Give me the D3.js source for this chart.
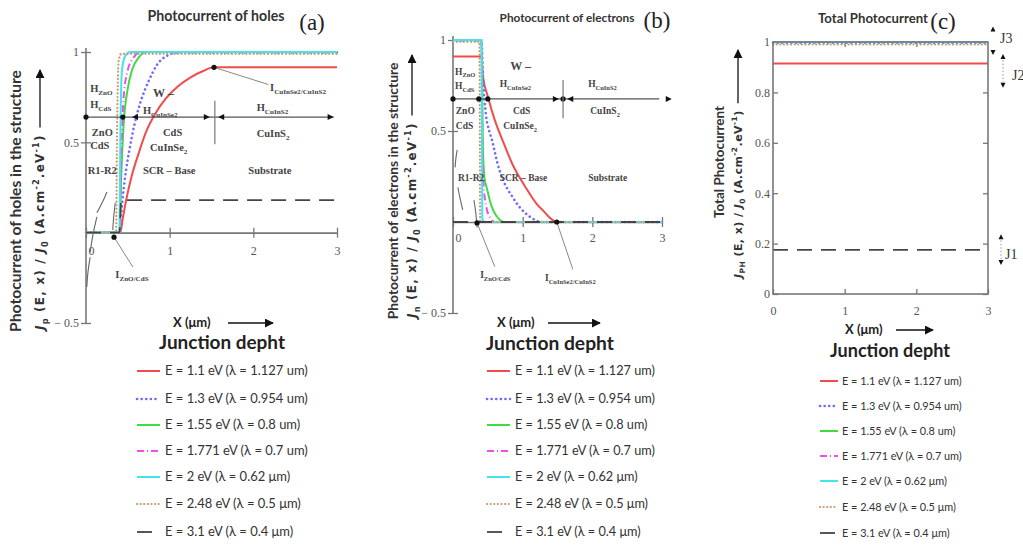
<!DOCTYPE html>
<html>
<head>
<meta charset="utf-8">
<script src="https://cdn.jsdelivr.net/npm/d3@7"></script>
<style>
  body { margin: 0; background: #fff; }
  svg { display: block; }
</style>
</head>
<body>
<div id="chart"></div>
<script>
const width = 1023;
const height = 545;
const sans = "Lato, 'Open Sans', sans-serif";
const serif = "'Liberation Serif', 'DejaVu Serif', serif";

// Legend labels (same for the three panels)
const legendLabels = [
  "E = 1.1 eV (λ = 1.127 um)",
  "E = 1.3 eV (λ = 0.954 um)",
  "E = 1.55 eV (λ = 0.8 um)",
  "E = 1.771 eV (λ = 0.7 um)",
  "E = 2 eV (λ = 0.62 μm)",
  "E = 2.48 eV (λ = 0.5 μm)",
  "E = 3.1 eV (λ = 0.4 μm)"
];

// (a) photocurrent of holes, [x (µm), Jp/J0]
const holes11 = [[0,0],[0.41,0],[0.44,0.08],[0.48,0.18],[0.55,0.32],[0.63,0.44],[0.72,0.56],[0.83,0.66],[0.95,0.74],[1.1,0.81],[1.25,0.86],[1.4,0.895],[1.53,0.915],[3,0.915]];
const holes13 = [[0,0],[0.4,0],[0.42,0.1],[0.44,0.2],[0.48,0.35],[0.52,0.46],[0.58,0.6],[0.65,0.72],[0.75,0.84],[0.85,0.93],[0.97,0.98],[1.1,0.997],[3,0.997]];
const holes155 = [[0,0],[0.4,0],[0.42,0.3],[0.45,0.6],[0.5,0.8],[0.55,0.9],[0.63,0.97],[0.73,1],[3,1]];
const holes1771 = [[0,0],[0.4,0],[0.42,0.4],[0.45,0.75],[0.5,0.9],[0.57,0.97],[0.65,1],[3,1]];
const holes2 = [[0,0],[0.4,0],[0.41,0.5],[0.43,0.9],[0.47,0.98],[0.53,1],[3,1]];
const holes248 = [[0,0],[0.36,0],[0.37,0.5],[0.39,0.95],[0.42,0.99],[3,0.99]];
const holes31 = [[0,0],[0.4,0],[0.42,0.18],[3,0.18]];

// (b) photocurrent of electrons, [x (µm), Jn/J0]
const elec11 = [[0,0.91],[0.41,0.91],[0.43,0.8],[0.5,0.69],[0.6,0.56],[0.71,0.45],[0.85,0.32],[1.06,0.18],[1.2,0.1],[1.3,0.06],[1.4,0.02],[1.49,0],[3,0]];
const elec13 = [[0,0.997],[0.41,0.997],[0.43,0.8],[0.47,0.6],[0.52,0.5],[0.56,0.45],[0.64,0.32],[0.72,0.23],[0.85,0.14],[0.96,0.08],[1.1,0.03],[1.27,0],[3,0]];
const elec155 = [[0,1],[0.41,1],[0.42,0.7],[0.43,0.4],[0.45,0.25],[0.49,0.18],[0.55,0.09],[0.63,0.03],[0.74,0],[3,0]];
const elec1771 = [[0,1],[0.41,1],[0.42,0.5],[0.44,0.2],[0.48,0.08],[0.54,0.02],[0.6,0],[3,0]];
const elec2 = [[0,1],[0.41,1],[0.42,0.02],[0.45,0],[3,0]];
const elec248 = [[0,0.99],[0.38,0.99],[0.39,0],[3,0]];
const elec31 = [[0,0],[3,0]];

// (c) total photocurrent, constant along x
const totalValues = [0.915, 0.997, 1, 1, 1, 0.99, 0.175];

// ticks
const xTicks = [0, 1, 2, 3];
const openYTicks = [1, 0.5, -0.5];
const totalYTicks = [0, 0.2, 0.4, 0.6, 0.8, 1];

// line styles, one per energy
const styles = [
  { color: "#f24b4b", dash: null, w: 2 },
  { color: "#6f6cf5", dash: "0.1,4.5", w: 2.6, cap: "round" },
  { color: "#41dc41", dash: null, w: 2 },
  { color: "#ec4fec", dash: "7,3,1,3", w: 2 },
  { color: "#44e4ec", dash: null, w: 2 },
  { color: "#c99a6c", dash: "0.1,3.5", w: 2.2, cap: "round" },
  { color: "#454545", dash: "15,9", w: 1.8 }
];

const svg = d3.select("#chart").append("svg")
  .attr("width", width)
  .attr("height", height)
  .style("font-family", sans);

svg.append("defs").append("marker")
  .attr("id", "arrow")
  .attr("viewBox", "0 0 10 10")
  .attr("refX", 9).attr("refY", 5)
  .attr("markerWidth", 9).attr("markerHeight", 9)
  .attr("markerUnits", "userSpaceOnUse")
  .attr("orient", "auto")
  .append("path").attr("d", "M0,0L10,5L0,10Z").attr("fill", "#111");

// text with sub/superscripts, parts = [[text, kind]]
function rich(text, parts) {
  let off = 0;
  parts.forEach(([t, kind]) => {
    const small = kind === "sub" || kind === "sup";
    const f = small ? 0.68 : 1;
    const target = kind === "sub" ? 0.3 : kind === "sup" ? -0.42 : 0;
    const ts = text.append("tspan").attr("font-size", f + "em").text(t);
    if (target !== off) ts.attr("dy", ((target - off) / f).toFixed(3) + "em");
    if (kind === "i") ts.attr("font-style", "italic");
    off = target;
  });
  return text;
}

// scale a plain text's font so that it spans len px
function fit(text, len) {
  const cur = text.node().getComputedTextLength();
  const fs = parseFloat(text.attr("font-size"));
  text.attr("font-size", fs * len / cur);
  return fs * len / cur;
}

const line = (x, y) => d3.line().x(d => x(d[0])).y(d => y(d[1])).curve(d3.curveMonotoneX);

function drawSeries(g, data, x, y) {
  data.forEach((s, i) => {
    const st = styles[i];
    g.append("path").datum(s)
      .attr("d", line(x, y))
      .attr("fill", "none")
      .attr("stroke", st.color)
      .attr("stroke-width", st.w)
      .attr("stroke-linecap", st.cap || "butt")
      .attr("stroke-dasharray", st.dash);
  });
}

function drawLegend(lg) {
  let fs = lg.fontSize;
  legendLabels.forEach((lab, i) => {
    const st = styles[i];
    const yy = lg.rows[i];
    svg.append("line")
      .attr("x1", lg.sample[0]).attr("x2", lg.sample[1])
      .attr("y1", yy).attr("y2", yy)
      .attr("stroke", st.color).attr("stroke-width", st.w)
      .attr("stroke-linecap", st.cap || "butt")
      .attr("stroke-dasharray", st.dash);
    const t = svg.append("text")
      .attr("x", lg.textX).attr("y", yy + 4)
      .attr("font-size", fs).attr("fill", "#333")
      .text(lab);
    if (i === 0) fs = fit(t, lg.firstLen);
  });
}

// rotated axis title: bold line + formula line with arrow
function yTitle(t) {
  const l1 = svg.append("text")
    .attr("transform", `translate(${t.x1},${t.c1}) rotate(-90)`)
    .attr("text-anchor", "middle")
    .attr("font-size", 12).attr("font-weight", "bold").attr("fill", "#333")
    .text(t.line1);
  fit(l1, t.len1);
  const g = svg.append("g").attr("transform", `translate(${t.x2},${t.bottom}) rotate(-90)`);
  const l2 = g.append("text")
    .attr("font-family", "'DejaVu Sans', sans-serif")
    .attr("font-size", t.fs2).attr("font-weight", "bold").attr("fill", "#333");
  rich(l2, [["J", "i"], [t.sub, "sub"], [" (E, x) / ", ""], ["J", "i"], ["0", "sub"],
    ["  (A.cm", ""], ["-2", "sup"], [".eV", ""], ["-1", "sup"], [")", ""]]);
  // small spacing correction towards the span of the original
  const raw = l2.node().getBBox().width;
  const n = l2.text().length;
  const ls = Math.max(-0.6, Math.min(1.2, (t.len2 - raw) / n));
  l2.attr("letter-spacing", ls.toFixed(2));
  const len2 = l2.node().getBBox().width;
  g.append("line")
    .attr("x1", len2 + 5).attr("x2", t.bottom - t.tip)
    .attr("y1", -4).attr("y2", -4)
    .attr("stroke", "#111").attr("stroke-width", 1.3)
    .attr("marker-end", "url(#arrow)");
}

function xTitle(t) {
  svg.append("text")
    .attr("x", t.x).attr("y", t.y)
    .attr("font-size", 13).attr("font-weight", "bold").attr("fill", "#222")
    .text("X (μm)");
  svg.append("line")
    .attr("x1", t.a0).attr("x2", t.a1)
    .attr("y1", t.y - 4).attr("y2", t.y - 4)
    .attr("stroke", "#111").attr("stroke-width", 1.3)
    .attr("marker-end", "url(#arrow)");
  const j = svg.append("text")
    .attr("x", t.jx).attr("y", t.jy)
    .attr("text-anchor", "middle")
    .attr("font-size", 16).attr("font-weight", "bold").attr("fill", "#222")
    .text("Junction depht");
  fit(j, t.jlen);
}

function titles(t) {
  const s = svg.append("text")
    .attr("x", t.x).attr("y", t.y)
    .attr("text-anchor", "middle")
    .attr("font-size", 10).attr("font-weight", "bold").attr("fill", "#333")
    .text(t.text);
  fit(s, t.len);
  svg.append("text")
    .attr("x", t.lx).attr("y", t.ly)
    .attr("text-anchor", "middle")
    .attr("font-family", serif).attr("font-size", 23).attr("fill", "#222")
    .text(t.letter);
}

// panels (a) and (b): open axes crossing at the origin
function openPanel(p) {
  const x = d3.scaleLinear().domain([0, 3]).range(p.xRange);
  const y = d3.scaleLinear().domain([-0.5, 1]).range(p.yRange);
  const g = svg.append("g");

  g.append("line")
    .attr("x1", x(0)).attr("x2", x(0))
    .attr("y1", y(-0.5)).attr("y2", y(1) - 4)
    .attr("stroke", "#777").attr("stroke-width", 1.6);

  const ya = g.append("g")
    .attr("transform", `translate(${x(0)},0)`)
    .call(d3.axisLeft(y).tickValues(openYTicks).tickSize(5).tickPadding(2)
      .tickFormat(d => d < 0 ? "− 0.5" : d));
  ya.select(".domain").remove();
  ya.selectAll(".tick line").attr("x1", 5).attr("stroke", "#777").attr("stroke-width", 1.3);
  ya.selectAll(".tick text").attr("font-family", serif).attr("font-size", 12).attr("fill", "#555");

  const xa = g.append("g")
    .attr("transform", `translate(0,${y(0)})`)
    .call(d3.axisBottom(x).tickValues(xTicks).tickSize(5).tickSizeOuter(0).tickPadding(p.xPad)
      .tickFormat(d => d));
  xa.select(".domain").attr("stroke", "#777").attr("stroke-width", 1.6);
  xa.selectAll(".tick line").attr("y1", -5).attr("stroke", "#777").attr("stroke-width", 1.3);
  xa.selectAll(".tick text").attr("font-family", serif).attr("font-size", 12).attr("fill", "#555")
    .attr("dx", d => d === 0 ? 5 : 0);

  // leader scribbles near the front contact
  p.scribbles.forEach(s => {
    g.append("path").datum(s)
      .attr("d", d3.line().x(d => x(d[0])).y(d => y(d[1])).curve(d3.curveBasis))
      .attr("fill", "none").attr("stroke", "#666").attr("stroke-width", 1.1);
  });

  drawSeries(g, p.series, x, y);

  // layer arrow line
  const ly = y(p.layerY);
  g.append("line")
    .attr("x1", x(0)).attr("x2", x(2.96)).attr("y1", ly).attr("y2", ly)
    .attr("stroke", "#555").attr("stroke-width", 1.2);
  p.layerDots.forEach(d => g.append("circle").attr("cx", x(d)).attr("cy", ly).attr("r", 2.6).attr("fill", "#111"));
  p.layerHeads.forEach(([d, dir]) => {
    const cx = x(d);
    g.append("path")
      .attr("d", `M${cx},${ly}L${cx - 6 * dir},${ly - 3}L${cx - 6 * dir},${ly + 3}Z`)
      .attr("fill", "#111");
  });
  g.append("line")
    .attr("x1", x(p.sep[0])).attr("x2", x(p.sep[0]))
    .attr("y1", y(p.sep[1])).attr("y2", y(p.sep[2]))
    .attr("stroke", "#777").attr("stroke-width", 1.2);

  // interface markers with leaders
  p.interfaces.forEach(f => {
    g.append("line")
      .attr("x1", x(f.at[0])).attr("y1", y(f.at[1]))
      .attr("x2", x(f.to[0])).attr("y2", y(f.to[1]))
      .attr("stroke", "#888").attr("stroke-width", 1);
    g.append("circle").attr("cx", x(f.at[0])).attr("cy", y(f.at[1])).attr("r", 2.6).attr("fill", "#111");
    rich(g.append("text")
      .attr("x", x(f.label[0])).attr("y", y(f.label[1]))
      .attr("font-family", serif).attr("font-size", p.annSize).attr("font-weight", "bold").attr("fill", "#444"),
      [["I", ""], [f.sub, "sub"]]);
  });

  // region annotations
  p.notes.forEach(n => {
    rich(g.append("text")
      .attr("x", x(n.at[0])).attr("y", y(n.at[1]))
      .attr("font-family", serif).attr("font-size", n.size || p.annSize)
      .attr("font-weight", "bold").attr("fill", "#444"),
      n.parts);
  });
}

const layerNotes = (pos) => [
  { at: pos[0], parts: [["H", ""], ["ZnO", "sub"]] },
  { at: pos[1], parts: [["H", ""], ["CdS", "sub"]] },
  { at: pos[2], parts: [["W –", ""]], size: 12 },
  { at: pos[3], parts: [["H", ""], ["CuInSe2", "sub"]] },
  { at: pos[4], parts: [["H", ""], ["CuInS2", "sub"]] },
  { at: pos[5], parts: [["ZnO", ""]] },
  { at: pos[6], parts: [["CdS", ""]] },
  { at: pos[7], parts: [["CdS", ""]] },
  { at: pos[8], parts: [["CuInSe", ""], ["2", "sub"]] },
  { at: pos[9], parts: [["CuInS", ""], ["2", "sub"]] },
  { at: pos[10], parts: [["R1-R2", ""]] },
  { at: pos[11], parts: [["SCR – Base", ""]] },
  { at: pos[12], parts: [["Substrate", ""]] }
];

// ---------- panel (a)
openPanel({
  xRange: [86, 337], yRange: [323, 52], xPad: 9, annSize: 10.5,
  series: [holes11, holes13, holes155, holes1771, holes2, holes248, holes31],
  layerY: 0.64,
  layerDots: [0, 0.44],
  layerHeads: [[0.55, -1], [1.48, 1], [1.58, -1], [2.96, 1]],
  sep: [1.54, 0.73, 0.49],
  scribbles: [
    [[0.25, 0.225], [0.2, 0.17], [0.13, 0.11]],
    [[0.35, 0.165], [0.33, 0.09], [0.32, 0.015]],
    [[0.13, 0.087], [0.08, -0.01], [0.05, -0.11]],
    [[0.05, -0.135], [0.02, -0.22], [0.01, -0.3]]
  ],
  interfaces: [
    { at: [0.335, -0.025], to: [0.56, -0.19], label: [0.35, -0.25], sub: "ZnO/CdS" },
    { at: [1.53, 0.915], to: [2.18, 0.82], label: [2.2, 0.784], sub: "CuInSe2/CuInS2" }
  ],
  notes: layerNotes([
    [0.05, 0.78], [0.05, 0.69], [0.8, 0.75], [0.68, 0.655], [2.04, 0.673],
    [0.07, 0.535], [0.05, 0.463], [0.92, 0.535], [0.765, 0.452], [2.04, 0.53],
    [0.02, 0.325], [0.68, 0.325], [1.94, 0.325]
  ])
});

// ---------- panel (b)
openPanel({
  xRange: [453, 662], yRange: [313, 40], xPad: 6, annSize: 9.5,
  series: [elec11, elec13, elec155, elec1771, elec2, elec248, elec31],
  layerY: 0.676,
  layerDots: [0, 0.37, 0.5, 1.58],
  layerHeads: [[1.52, 1], [1.64, -1], [3.14, 1]],
  sep: [1.58, 0.78, 0.57],
  scribbles: [
    [[0.06, 0.396], [0.04, 0.35], [0.03, 0.3]],
    [[0.07, 0.19], [0.1, 0.13], [0.14, 0.066]],
    [[0.3, 0.12], [0.33, 0.05], [0.345, -0.03]]
  ],
  interfaces: [
    { at: [0.345, -0.005], to: [0.6, -0.245], label: [0.39, -0.31], sub: "ZnO/CdS" },
    { at: [1.49, 0], to: [1.72, -0.26], label: [1.32, -0.325], sub: "CuInSe2/CuInS2" }
  ],
  notes: layerNotes([
    [0.03, 0.81], [0.03, 0.73], [0.82, 0.835], [0.67, 0.74], [1.94, 0.74],
    [0.04, 0.593], [0.04, 0.51], [0.86, 0.593], [0.72, 0.51], [1.97, 0.593],
    [0.07, 0.225], [0.67, 0.225], [1.94, 0.225]
  ])
});

// ---------- panel (c): boxed plot
{
  const x = d3.scaleLinear().domain([0, 3]).range([773, 988]);
  const y = d3.scaleLinear().domain([0, 1]).range([294, 42]);
  const g = svg.append("g");
  const axStyle = a => {
    a.select(".domain").remove();
    a.selectAll(".tick line").attr("stroke", "#777").attr("stroke-width", 1.3);
    a.selectAll(".tick text").attr("font-family", serif).attr("font-size", 12).attr("fill", "#555");
  };
  g.append("g").attr("transform", `translate(${x(0)},0)`)
    .call(d3.axisLeft(y).tickValues(totalYTicks).tickSize(-5).tickPadding(3).tickFormat(d => d)).call(axStyle);
  g.append("g").attr("transform", `translate(${x(3)},0)`)
    .call(d3.axisRight(y).tickValues(totalYTicks).tickSize(-5).tickFormat("")).call(axStyle);
  g.append("g").attr("transform", `translate(0,${y(0)})`)
    .call(d3.axisBottom(x).tickValues(xTicks).tickSize(-5).tickPadding(12).tickFormat(d => d)).call(axStyle);
  g.append("g").attr("transform", `translate(0,${y(1)})`)
    .call(d3.axisTop(x).tickValues([1, 2]).tickSize(-5).tickFormat("")).call(axStyle);

  drawSeries(g, totalValues.map(v => [[0, v], [3, v]]), x, y);

  g.append("rect")
    .attr("x", x(0)).attr("y", y(1))
    .attr("width", x(3) - x(0)).attr("height", y(0) - y(1))
    .attr("fill", "none").attr("stroke", "#777").attr("stroke-width", 1.6);

  // J1..J3 brackets
  const jMarks = [
    { name: "J3", top: 1.05, bot: 0.96, xa: 993, tx: 1000, ty: 1.015, line: false },
    { name: "J2", top: 0.94, bot: 0.83, xa: 1003, tx: 1012, ty: 0.87, line: true },
    { name: "J1", top: 0.225, bot: 0.127, xa: 1001, tx: 1005, ty: 0.16, line: true }
  ];
  jMarks.forEach(j => {
    const y0 = y(j.top), y1 = y(j.bot);
    if (j.line) {
      g.append("line").attr("x1", j.xa).attr("x2", j.xa).attr("y1", y0 + 3).attr("y2", y1 - 3)
        .attr("stroke", "#999").attr("stroke-width", 1).attr("stroke-dasharray", "1.5,2");
    }
    g.append("path").attr("d", `M${j.xa},${y0 - 3}L${j.xa - 2.5},${y0 + 2}L${j.xa + 2.5},${y0 + 2}Z`).attr("fill", "#111");
    g.append("path").attr("d", `M${j.xa},${y1 + 3}L${j.xa - 2.5},${y1 - 2}L${j.xa + 2.5},${y1 - 2}Z`).attr("fill", "#111");
    g.append("text").attr("x", j.tx).attr("y", y(j.ty) + 5)
      .attr("font-family", serif).attr("font-size", 14).attr("fill", "#333")
      .text(j.name);
  });
}

// ---------- titles, axis titles, legends
titles({ text: "Photocurrent of holes", x: 216, y: 21, len: 137, letter: "(a)", lx: 312, ly: 30 });
titles({ text: "Photocurrent of electrons", x: 567, y: 22, len: 135, letter: "(b)", lx: 657, ly: 28 });
titles({ text: "Total Photocurrent", x: 873, y: 23, len: 110, letter: "(c)", lx: 943, ly: 29 });

yTitle({ line1: "Photocurrent of holes in the structure", x1: 21, c1: 201, len1: 262,
  x2: 44, bottom: 330, tip: 70, fs2: 12, len2: 200, sub: "p" });
yTitle({ line1: "Photocurrent of electrons in the structure", x1: 398, c1: 191, len1: 257,
  x2: 416, bottom: 318, tip: 55, fs2: 12, len2: 216, sub: "n" });
yTitle({ line1: "Total Photocurrent", x1: 724, c1: 162, len1: 112,
  x2: 742, bottom: 278, tip: 50, fs2: 11, len2: 170, sub: "PH" });

xTitle({ x: 173, y: 327, a0: 228, a1: 273, jx: 222, jy: 349, jlen: 126 });
xTitle({ x: 497, y: 327, a0: 548, a1: 600, jx: 550, jy: 350, jlen: 128 });
xTitle({ x: 845, y: 334, a0: 896, a1: 933, jx: 890, jy: 357, jlen: 120 });

drawLegend({ sample: [137, 160], textX: 165, rows: [371, 399, 425, 451, 477, 504, 532], fontSize: 11, firstLen: 143 });
drawLegend({ sample: [487, 510], textX: 515, rows: [371, 399, 425, 451, 477, 504, 532], fontSize: 11, firstLen: 140 });
drawLegend({ sample: [820, 838], textX: 842, rows: [381, 406, 431, 456, 481, 507, 533], fontSize: 9.5, firstLen: 120 });
</script>
</body>
</html>
